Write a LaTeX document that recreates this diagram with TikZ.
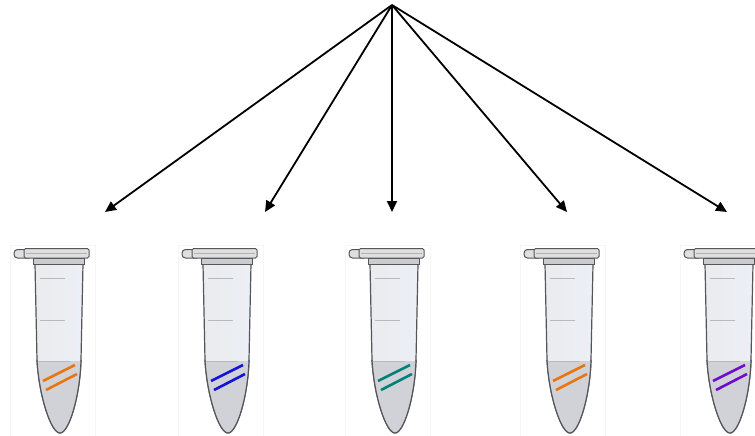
\documentclass[tikz,border=0pt]{standalone}
\usetikzlibrary{arrows.meta}

\definecolor{bandOrange}{RGB}{232,118,16}
\definecolor{bandBlue}{RGB}{20,20,215}
\definecolor{bandTeal}{RGB}{0,128,118}
\definecolor{bandPurple}{RGB}{112,12,208}
\definecolor{tubeGlass}{RGB}{236,239,246}
\definecolor{tubeLiquid}{RGB}{208,210,216}
\definecolor{tubeLine}{RGB}{85,85,90}

\begin{document}
\begin{tikzpicture}[x=1pt, y=-1pt, >={Triangle[length=11pt,width=10pt]}]
    \tikzset{
        feed/.style={->, line width=1.8pt, black},
        glass/.style={left color=tubeGlass!70!gray!40, right color=tubeGlass, draw=tubeLine, line width=1.2pt},
        capbox/.style={fill=gray!25, draw=tubeLine, line width=1pt},
        grad/.style={gray!55, line width=0.8pt},
        band/.style={line width=2.6pt}
    }
    \useasboundingbox (0,0) rectangle (755,436);

    % common source and the five targets
    \coordinate (src) at (392,5);
    \coordinate (t1) at (105,212);
    \coordinate (t2) at (265,212);
    \coordinate (t3) at (392,212);
    \coordinate (t4) at (567,212);
    \coordinate (t5) at (727,212);

    \foreach \t in {t1,t2,t3,t4,t5} {
        \draw[feed] (src) -- (\t);
    }

    % tubes
    \foreach \dx/\col in {0/bandOrange, 168/bandBlue, 335/bandTeal, 510/bandOrange, 670/bandPurple} {
        \begin{scope}[xshift=\dx pt]
            % faint frame behind the tube
            \draw[gray!7] (10,245) rectangle (95,436);

            % body
            \draw[glass] (35,264) -- (37,360) .. controls (39,396) and (51,433) .. (60,433)
                .. controls (69,433) and (80,396) .. (81,360) -- (83,264);
            % liquid in the cone
            \fill[tubeLiquid] (37,361) .. controls (39,396) and (51,433) .. (60,433)
                .. controls (69,433) and (80,396) .. (81,361) -- cycle;
            \draw[tubeLine, line width=1.2pt] (37,360) .. controls (39,396) and (51,433) .. (60,433)
                .. controls (69,433) and (80,396) .. (81,360);
            \draw[gray!55, line width=0.8pt] (38,361) -- (70,361);

            % graduation marks
            \draw[grad] (40,278) -- (65,278);
            \draw[grad] (40,320) -- (65,320);

            % rim and lid
            \draw[fill=gray!40, draw=tubeLine, line width=1pt] (33,258) rectangle (84,264);
            \draw[capbox, rounded corners=3.5pt] (14,249.5) rectangle (32,258);
            \draw[capbox, rounded corners=1.5pt] (24,248.5) rectangle (89,258);
            \draw[gray!60, line width=0.6pt] (26,253.5) -- (87,253.5);

            % the two bands
            \draw[band, \col] (43,381) -- (75,365);
            \draw[band, \col] (46,390) -- (77,374);
        \end{scope}
    }
\end{tikzpicture}
\end{document}
